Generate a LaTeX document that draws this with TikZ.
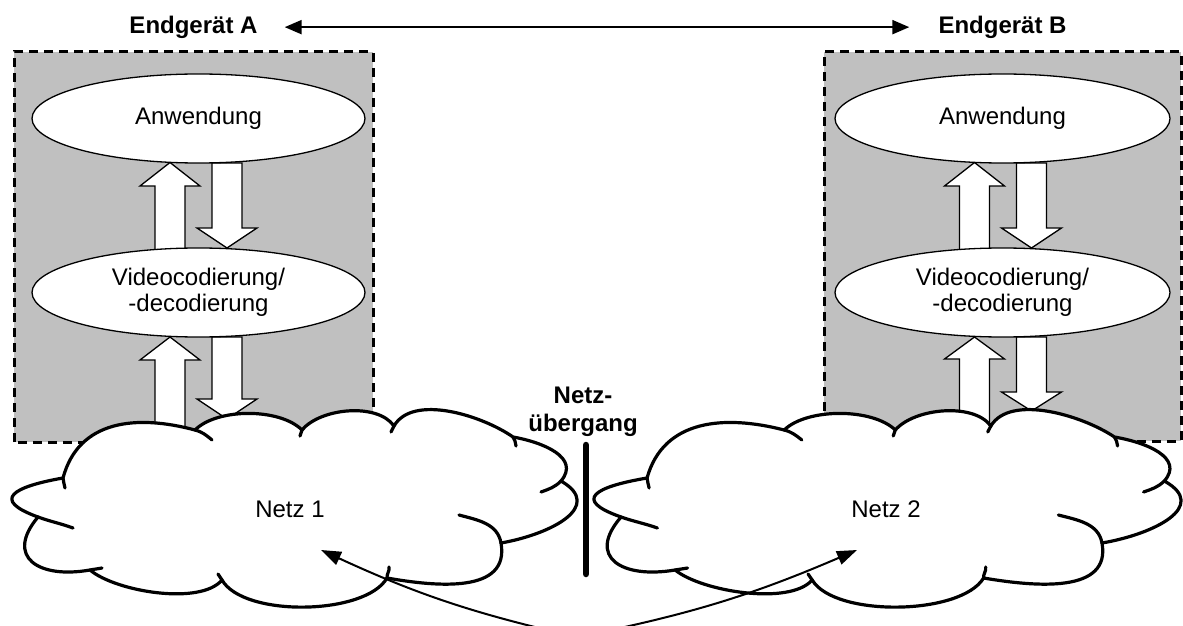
\documentclass[tikz,border=0pt]{standalone}
\usepackage{fontspec}
\setmainfont{Liberation Sans}
\usetikzlibrary{shapes.geometric,arrows.meta}
\definecolor{boxgray}{HTML}{C0C0C0}
\tikzset{
  devbox/.style={fill=boxgray, draw=black, line width=3pt, dash pattern=on 9pt off 6pt},
  layer/.style={ellipse, draw=black, fill=white, line width=1.3pt, minimum width=333pt, minimum height=89pt, inner sep=0pt, align=center, font=\fontsize{24}{26}\selectfont},
  blk/.style={draw=black, fill=white, line width=1.3pt, line join=miter},
  cloudline/.style={draw=black, fill=white, line width=3.2pt, line join=round},
  hookline/.style={line width=3.2pt, line cap=round},
  lbl/.style={font=\fontsize{24}{28.5}\selectfont\bfseries, inner sep=0pt},
  netlbl/.style={font=\fontsize{24}{27}\selectfont, inner sep=0pt},
  topconn/.style={line width=2.2pt, {Triangle[length=17pt,width=14pt]}-{Triangle[length=17pt,width=14pt]}},
  conn/.style={line width=2pt, -{Triangle[length=20pt,width=14pt]}},
}
\newcommand\blkarrow[4]{% x, base, headbase, tip
  \draw[blk] (#1-15,#2) -- (#1-15,#3) -- (#1-30,#3) -- (#1,#4) -- (#1+30,#3) -- (#1+15,#3) -- (#1+15,#2) -- cycle;}
\newcommand\netcloud{%
  \draw[cloudline] (63,147) to[out=75,in=165,looseness=1.1] (195,195)
    to[out=45,in=135,looseness=0.75] (302,195)
    to[out=50,in=125,looseness=0.8] (394,199)
    to[out=60,in=145,looseness=0.8] (513,188)
    to[out=-10,in=50,looseness=1.2] (561,144)
    to[out=-30,in=10,looseness=1.5] (501,82)
    to[out=-80,in=-10,looseness=1.1] (387,47)
    to[out=-120,in=-60,looseness=0.67] (222,45)
    to[out=-130,in=-40,looseness=0.65] (90,55)
    to[out=190,in=230,looseness=1.8] (38,108)
    to[out=160,in=190,looseness=2.8] (63,147) -- cycle;
  \draw[hookline] (63,147) to[out=-85,in=100] (65,137);
  \draw[hookline] (195,195) to[out=-15,in=140] (212,185);
  \draw[hookline] (302,195) -- (300,189);
  \draw[hookline] (394,199) -- (391,193);
  \draw[hookline] (513,188) to[out=-60,in=95] (516,179);
  \draw[hookline] (561,144) to[out=-135,in=20] (541,133);
  \draw[hookline] (501,82) to[out=100,in=-15] (459,110);
  \draw[hookline] (387,47) to[out=95,in=-80] (389,58);
  \draw[hookline] (222,45) -- (218,51);
  \draw[hookline] (90,55) to[out=10,in=190] (102,57);
  \draw[hookline] (38,108) to[out=-20,in=160] (73,97);
}
\begin{document}
\begin{tikzpicture}[x=1pt,y=1pt]
\useasboundingbox (0,0) rectangle (1183,625);
\clip (0,0) rectangle (1183,625);
% device boxes
\draw[devbox] (14,183) rectangle (373,573);
\draw[devbox] (824,184) rectangle (1181,573);
% block arrows left
\blkarrow{170}{375}{439}{462.5}
\blkarrow{227}{462}{397}{377}
\blkarrow{170}{150}{265}{288}
\blkarrow{227}{288}{226}{206}
% block arrows right
\blkarrow{974.5}{375}{439}{462.5}
\blkarrow{1031.5}{462}{397}{377}
\blkarrow{974.5}{150}{266}{288}
\blkarrow{1031.5}{288}{233}{214}
% layers
\node[layer] (appA) at (198.5,506.5) {Anwendung};
\node[layer] (vidA) at (198.5,332.5) {Videocodierung/\\-decodierung};
\node[layer, minimum width=335pt] (appB) at (1002.5,506.5) {Anwendung};
\node[layer, minimum width=335pt] (vidB) at (1002.5,332.5) {Videocodierung/\\-decodierung};
% clouds
\netcloud
\begin{scope}[shift={(581.6,0)}, xscale=1.0387]
\netcloud
\end{scope}
\node[netlbl, anchor=base] (n1) at (290,108) {Netz 1};
\node[netlbl, anchor=base] (n2) at (886,108) {Netz 2};
% gateway
\node[lbl, align=center] (gw) at (583,213) {Netz-\\übergang};
\coordinate (gwtop) at (586,180);
\coordinate (gwbot) at (586,51);
\draw[line width=6.5pt, line cap=round] (gwtop) -- (gwbot);
% curved arrows
\coordinate (src) at (577,-12);
\coordinate (t1) at (321,75);
\coordinate (t2) at (857,75);
\draw[conn] (src) to[bend left=6] (t1);
\draw[conn] (src) to[bend right=6] (t2);
% top labels
\node[lbl, anchor=base] (A) at (193.5,591.7) {Endgerät A};
\node[lbl, anchor=base] (B) at (1002.5,591.7) {Endgerät B};
\draw[topconn] ([xshift=27pt]A.east) -- ([xshift=-29pt]B.west);
\end{tikzpicture}
\end{document}
